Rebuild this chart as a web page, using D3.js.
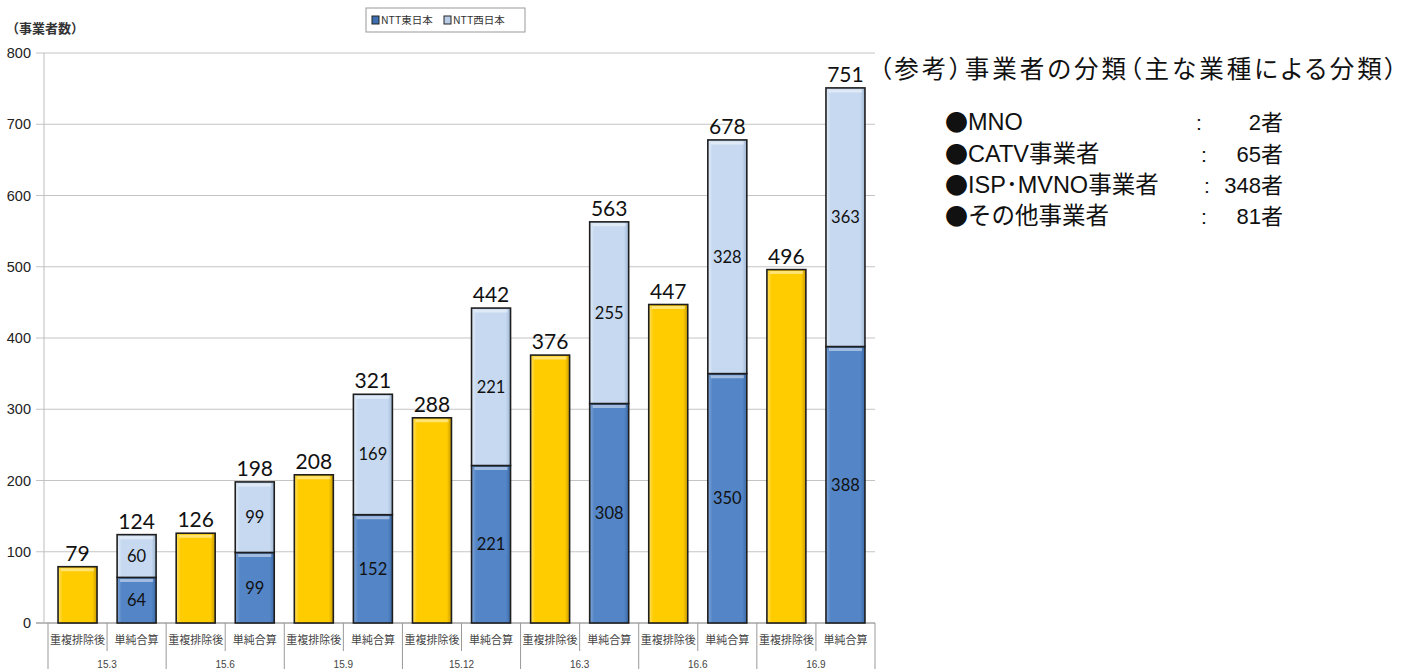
<!DOCTYPE html>
<html><head><meta charset="utf-8">
<script src="https://cdn.jsdelivr.net/npm/d3@7"></script>
<style>
body{margin:0;background:#fff;}
svg{display:block;}
.palt{font-feature-settings:"palt";}
</style></head>
<body><svg id="c" width="1411" height="669"></svg>
<script>
const periods = ["15.3","15.6","15.9","15.12","16.3","16.6","16.9"];
const subCats = ["重複排除後","単純合算"];
const dedup = [79,126,208,288,376,447,496];
const east = [64,99,152,221,308,350,388];
const west = [60,99,169,221,255,328,363];
const yTicks = [0,100,200,300,400,500,600,700,800];
const seriesNames = ["NTT東日本","NTT西日本"];
const refTitle = "（参考）事業者の分類（主な業種による分類）";
const refLabels = ["MNO","CATV事業者","ISP･MVNO事業者","その他事業者"];
const refValues = ["2者","65者","348者","81者"];

const svg = d3.select("#c");
const X0 = 48, X1 = 875, Y0 = 623, Y1 = 53;
const cats = [];
periods.forEach((p,i)=>{cats.push({p,i,k:0,name:subCats[0]});cats.push({p,i,k:1,name:subCats[1]});});
const x = d3.scaleBand().domain(cats.map((c,j)=>j)).range([X0,X1]).paddingInner(0.34).paddingOuter(0.17);
const xs = d3.scaleBand().domain(cats.map((c,j)=>j)).range([X0,X1]);
const y = d3.scaleLinear().domain([0,800]).range([Y0,Y1]);

const defs = svg.append("defs");
function grad(id, c1, c2, c3){
  const g = defs.append("linearGradient").attr("id",id).attr("x1","0").attr("x2","1").attr("y1","0").attr("y2","0");
  g.append("stop").attr("offset","0").attr("stop-color",c1);
  g.append("stop").attr("offset","0.12").attr("stop-color",c2);
  g.append("stop").attr("offset","0.88").attr("stop-color",c2);
  g.append("stop").attr("offset","1").attr("stop-color",c3);
}
grad("gY","#ffe066","#ffcc00","#c89a00");
grad("gB","#7fa6d8","#5485c6","#3b6aa6");
grad("gL","#e3edf9","#c6d9f0","#9fb6d2");

// gridlines
const font = "'Liberation Sans', Arial, sans-serif";
svg.append("g").selectAll("line").data(yTicks).join("line")
  .attr("x1",36).attr("x2",X1).attr("y1",d=>y(d)).attr("y2",d=>y(d))
  .attr("stroke",d=>d===0?"#777":"#c4c4c4").attr("stroke-width",1);
svg.append("line").attr("x1",44).attr("x2",44).attr("y1",Y1).attr("y2",Y0).attr("stroke","#bdbdbd");
svg.append("g").selectAll("text").data(yTicks).join("text")
  .attr("x",31).attr("y",d=>y(d)+5).attr("text-anchor","end")
  .attr("font-family",font).attr("font-size",14.5).attr("fill","#222").text(d=>d);

// category axis separators
cats.forEach((c,j)=>{
  const xl = xs(j);
  if(c.k===0){
    svg.append("line").attr("x1",xl).attr("x2",xl).attr("y1",Y0).attr("y2",669).attr("stroke","#999");
  } else {
    svg.append("line").attr("x1",xl).attr("x2",xl).attr("y1",Y0).attr("y2",651).attr("stroke","#999");
  }
  svg.append("text").attr("x",xs(j)+xs.bandwidth()/2).attr("y",644).attr("text-anchor","middle")
    .attr("font-family","'Noto Sans CJK JP'").attr("font-size",11).attr("fill","#444").text(c.name);
});
svg.append("line").attr("x1",X1).attr("x2",X1).attr("y1",Y0).attr("y2",669).attr("stroke","#999");
periods.forEach((p,i)=>{
  svg.append("text").attr("x",xs(2*i)+xs.bandwidth()).attr("y",667.5).attr("text-anchor","middle")
    .attr("font-family",font).attr("font-size",10).attr("fill","#444").text(p);
});

const bw = x.bandwidth();
function bar(xp, v0, v1, fill){
  svg.append("rect").attr("x",xp).attr("y",y(v1)).attr("width",bw).attr("height",y(v0)-y(v1))
    .attr("fill",fill).attr("stroke","#1e1e1e").attr("stroke-width",1.6);
  svg.append("line").attr("x1",xp+3).attr("x2",xp+bw-3).attr("y1",y(v1)+3).attr("y2",y(v1)+3)
    .attr("stroke","#fff").attr("stroke-opacity",0.45).attr("stroke-width",3);
}
const lblFont = "Lato, 'Liberation Sans', sans-serif";
periods.forEach((p,i)=>{
  const j0 = 2*i, j1 = 2*i+1;
  bar(x(j0),0,dedup[i],"url(#gY)");
  svg.append("text").attr("x",x(j0)+bw/2).attr("y",y(dedup[i])-6).attr("text-anchor","middle")
    .attr("font-family",lblFont).attr("font-size",21).attr("fill","#111").text(dedup[i]);
  bar(x(j1),0,east[i],"url(#gB)");
  bar(x(j1),east[i],east[i]+west[i],"url(#gL)");
  svg.append("text").attr("x",x(j1)+bw/2).attr("y",y(east[i]/2)+6).attr("text-anchor","middle")
    .attr("font-family",lblFont).attr("font-size",16.5).attr("fill","#111").text(east[i]);
  svg.append("text").attr("x",x(j1)+bw/2).attr("y",y(east[i]+west[i]/2)+6).attr("text-anchor","middle")
    .attr("font-family",lblFont).attr("font-size",16.5).attr("fill","#111").text(west[i]);
  svg.append("text").attr("x",x(j1)+bw/2).attr("y",y(east[i]+west[i])-6).attr("text-anchor","middle")
    .attr("font-family",lblFont).attr("font-size",21).attr("fill","#111").text(east[i]+west[i]);
});

// y title
svg.append("text").attr("x",6).attr("y",33).attr("font-family","'Noto Sans CJK JP'").attr("font-size",13)
  .attr("font-weight","bold").attr("fill","#333").text("（事業者数）");

// legend
svg.append("rect").attr("x",366).attr("y",8).attr("width",159).attr("height",24).attr("fill","#fff").attr("stroke","#999");
const legFills = ["#3f6fb0","#b9cde8"];
seriesNames.forEach((n,k)=>{
  const lx = 372 + k*72;
  svg.append("rect").attr("x",lx).attr("y",16).attr("width",7).attr("height",8).attr("fill",legFills[k]).attr("stroke","#222").attr("stroke-width",1);
  svg.append("text").attr("x",lx+9).attr("y",24).attr("font-family","'Noto Sans CJK JP'").attr("font-size",10.5).attr("fill","#333").text(n);
});

// reference text
const rf = "'Noto Sans CJK JP', sans-serif";
const rl = "'Liberation Sans', 'Noto Sans CJK JP', sans-serif";
svg.append("text").attr("class","palt").attr("x",879).attr("y",78).attr("font-family",rf).attr("font-size",24.5)
  .attr("textLength",518).attr("lengthAdjust","spacing").attr("fill","#111").text(refTitle);
const rows = [130,162,193,224];
const colonX = [1196,1201,1204,1201];
refLabels.forEach((lab,k)=>{
  svg.append("text").attr("x",945).attr("y",rows[k]+1).attr("font-family",rf).attr("font-size",23).attr("fill","#111").text("●");
  svg.append("text").attr("x",968).attr("y",rows[k]).attr("font-family",rl).attr("font-size",23.5).attr("fill","#111").text(lab);
  svg.append("text").attr("x",colonX[k]).attr("y",rows[k]).attr("font-family",rl).attr("font-size",21).attr("fill","#111").text(":");
  svg.append("text").attr("x",1283).attr("y",rows[k]).attr("text-anchor","end").attr("font-family",rl).attr("font-size",22).attr("fill","#111").text(refValues[k]);
});
</script></body></html>
